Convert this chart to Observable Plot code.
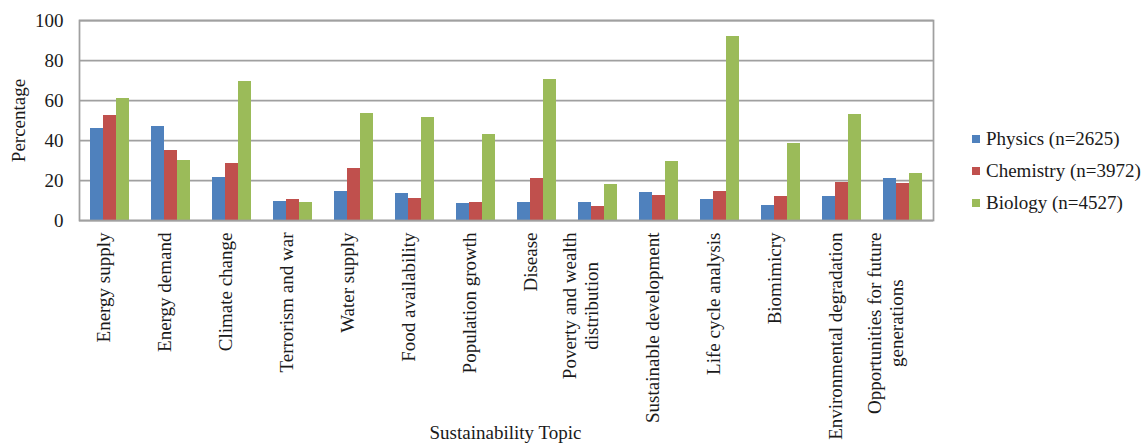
<!DOCTYPE html>
<html><head><meta charset="utf-8">
<script src="https://cdn.jsdelivr.net/npm/d3@7"></script>
<script src="https://cdn.jsdelivr.net/npm/@observablehq/plot@0.6"></script>
<style>
body{margin:0;background:#fff;}
#wrap{position:relative;width:1146px;height:444px;font-family:"Liberation Serif","Times New Roman",serif;color:#1a1a1a;}
#legend{position:absolute;left:972px;top:123px;font-size:19px;}
.row{height:32px;display:flex;align-items:center;white-space:nowrap;}
.sw{width:8px;height:8px;margin-right:6px;flex:none;}
#xtitle{position:absolute;left:78px;width:855px;top:423px;text-align:center;font-size:19px;line-height:20px;}
</style></head><body>
<div id="wrap"><div id="legend"></div><div id="xtitle"></div></div>
<script>
const topics = ["Energy supply","Energy demand","Climate change","Terrorism and war","Water supply","Food availability","Population growth","Disease","Poverty and wealth\ndistribution","Sustainable development","Life cycle analysis","Biomimicry","Environmental degradation","Opportunities for future\ngenerations"];
const seriesNames = ["Physics (n=2625)","Chemistry (n=3972)","Biology (n=4527)"];
const physics   = [46, 47, 21.5, 9.5, 14.5, 13.5, 8.5, 9, 9, 14, 10.5, 7.5, 12, 21];
const chemistry = [52.5, 35, 28.5, 10.5, 26, 11, 9, 21, 7, 12.5, 14.5, 12, 19, 18.5];
const biology   = [61, 30, 69.5, 9, 53.5, 51.5, 43, 70.5, 18, 29.5, 92, 38.5, 53, 23.5];
const colors = ["#4F81BD","#C0504D","#9BBB59"];
const yTicks = [0,20,40,60,80,100];
const yLabel = "Percentage";
const xLabel = "Sustainability Topic";

const seriesValues = [physics, chemistry, biology];
const rows = topics.flatMap((t,i)=>seriesValues.map((arr,j)=>({topic:t, series:seriesNames[j], value:arr[i]})));

const chart = Plot.plot({
  width:1146, height:444,
  marginLeft:78, marginRight:213, marginTop:20, marginBottom:224,
  style:{fontFamily:"'Liberation Serif', 'Times New Roman', serif", fontSize:"19px", color:"#1a1a1a", background:"white", overflow:"visible"},
  fx:{domain:topics, paddingInner:0, paddingOuter:0, axis:null, label:null},
  x:{domain:seriesNames, paddingInner:0, paddingOuter:0.745, axis:null},
  y:{domain:[0,100], ticks:yTicks, tickSize:0, tickPadding:16, label:yLabel, labelAnchor:"center", labelOffset:68, labelArrow:"none"},
  color:{domain:seriesNames, range:colors},
  marks:[
    Plot.ruleY(yTicks, {stroke:"#a0a0a0", strokeWidth:1.75}),
    Plot.barY(rows, {fx:"topic", x:"series", y:"value", fill:"series"}),
    Plot.frame({stroke:"#a0a0a0", strokeWidth:1.75, facet:"super"}),
    Plot.text(topics, {fx:d=>d, text:d=>d, frameAnchor:"bottom", rotate:-90, textAnchor:"end", dy:12, lineHeight:1.15, fontSize:19, fill:"#1a1a1a"})
  ]
});
const wrap = document.getElementById("wrap");
wrap.insertBefore(chart, wrap.firstChild);
chart.querySelectorAll("text").forEach(t=>{
  const sp = t.querySelectorAll("tspan");
  if (sp.length > 1) {
    const w = Math.max(...[...sp].map(s=>s.getComputedTextLength()));
    t.setAttribute("text-anchor","middle");
    sp.forEach(s=>s.setAttribute("x", -w/2));
  }
});
document.getElementById("xtitle").textContent = xLabel;
const legend = document.getElementById("legend");
seriesNames.forEach((s,i)=>{
  const r = document.createElement("div"); r.className="row";
  const sw = document.createElement("span"); sw.className="sw"; sw.style.background=colors[i];
  const tx = document.createElement("span"); tx.textContent = s;
  r.appendChild(sw); r.appendChild(tx); legend.appendChild(r);
});
</script></body></html>
